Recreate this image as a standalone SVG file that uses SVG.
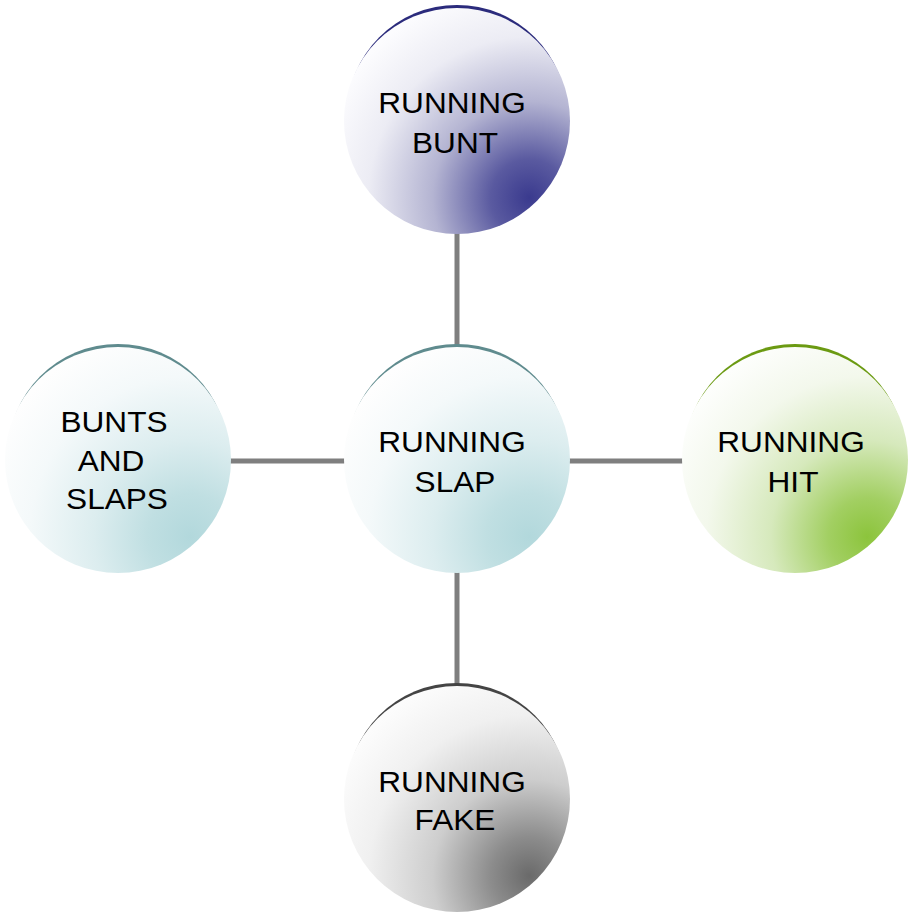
<svg xmlns="http://www.w3.org/2000/svg" width="909" height="915" viewBox="0 0 909 915">
<defs>
<radialGradient id="gNavy" cx="0.82" cy="0.84" r="0.95">
<stop offset="0" stop-color="#3a3a8e"/>
<stop offset="0.18" stop-color="#5a5aa0"/>
<stop offset="0.45" stop-color="#b4b4d2"/>
<stop offset="0.75" stop-color="#ececf4"/>
<stop offset="1" stop-color="#fcfcfe"/>
</radialGradient>
<radialGradient id="gTeal" cx="0.82" cy="0.84" r="0.95">
<stop offset="0" stop-color="#b2d8dc"/>
<stop offset="0.2" stop-color="#c0dfe2"/>
<stop offset="0.45" stop-color="#dcedef"/>
<stop offset="0.75" stop-color="#f4f9fa"/>
<stop offset="1" stop-color="#fefefe"/>
</radialGradient>
<radialGradient id="gGreen" cx="0.82" cy="0.84" r="0.95">
<stop offset="0" stop-color="#8cc43c"/>
<stop offset="0.18" stop-color="#a2cf62"/>
<stop offset="0.45" stop-color="#d6e9bc"/>
<stop offset="0.75" stop-color="#f3f8ec"/>
<stop offset="1" stop-color="#fdfefc"/>
</radialGradient>
<radialGradient id="gGray" cx="0.82" cy="0.84" r="0.95">
<stop offset="0" stop-color="#6a6a6a"/>
<stop offset="0.18" stop-color="#8c8c8c"/>
<stop offset="0.45" stop-color="#cdcdcd"/>
<stop offset="0.75" stop-color="#f0f0f0"/>
<stop offset="1" stop-color="#fcfcfc"/>
</radialGradient>
</defs>
<style>
.conn{stroke:#7f7f7f;stroke-width:5;fill:none}
.lbl{font-family:"Liberation Sans",Arial,sans-serif;font-size:29px;fill:#000;text-anchor:middle}
</style>
<g id="connectors">
<line class="conn" x1="457" y1="230" x2="457" y2="348"/>
<line class="conn" x1="228" y1="461" x2="348" y2="461"/>
<line class="conn" x1="566" y1="461" x2="686" y2="461"/>
<line class="conn" x1="457" y1="570" x2="457" y2="688"/>
</g>
<g id="node-top">
<circle cx="457" cy="115" r="110" fill="#2b2b7c"/>
<circle cx="457" cy="121" r="113" fill="url(#gNavy)"/>
<text class="lbl" transform="translate(452,113) scale(1.09,1)">RUNNING</text>
<text class="lbl" transform="translate(455,153) scale(1.09,1)">BUNT</text>
</g>
<g id="node-center">
<circle cx="457" cy="454" r="110" fill="#5f8b8e"/>
<circle cx="457" cy="460" r="113" fill="url(#gTeal)"/>
<text class="lbl" transform="translate(452,452) scale(1.09,1)">RUNNING</text>
<text class="lbl" transform="translate(455,492) scale(1.09,1)">SLAP</text>
</g>
<g id="node-left">
<circle cx="118" cy="454" r="110" fill="#5f8b8e"/>
<circle cx="118" cy="460" r="113" fill="url(#gTeal)"/>
<text class="lbl" transform="translate(114,432) scale(1.09,1)">BUNTS</text>
<text class="lbl" transform="translate(111,471) scale(1.09,1)">AND</text>
<text class="lbl" transform="translate(117,509) scale(1.09,1)">SLAPS</text>
</g>
<g id="node-right">
<circle cx="795" cy="454" r="110" fill="#6b9a12"/>
<circle cx="795" cy="460" r="113" fill="url(#gGreen)"/>
<text class="lbl" transform="translate(791,452) scale(1.09,1)">RUNNING</text>
<text class="lbl" transform="translate(793,492) scale(1.09,1)">HIT</text>
</g>
<g id="node-bottom">
<circle cx="457" cy="793" r="110" fill="#444444"/>
<circle cx="457" cy="799" r="113" fill="url(#gGray)"/>
<text class="lbl" transform="translate(452,792) scale(1.09,1)">RUNNING</text>
<text class="lbl" transform="translate(455,830) scale(1.09,1)">FAKE</text>
</g>
</svg>
